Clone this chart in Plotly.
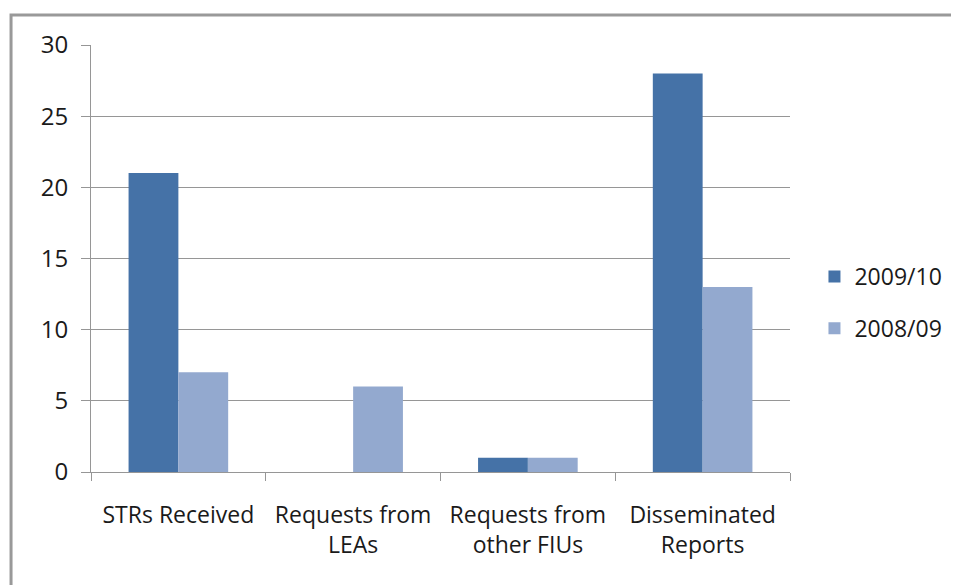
import plotly.graph_objects as go

categories = ["STRs Received", "Requests from<br>LEAs", "Requests from<br>other FIUs", "Disseminated<br>Reports"]
series_names = ["2009/10", "2008/09"]
values_2009_10 = [21, 0, 1, 28]
values_2008_09 = [7, 6, 1, 13]
y_ticks = [0, 5, 10, 15, 20, 25, 30]

FONT = "Open Sans"
TXT = "#1a1a1a"
GRID = "#969696"

fig = go.Figure()
fig.add_trace(go.Bar(x=categories, y=values_2009_10, name=series_names[0], legendgroup="a",
                     marker=dict(color="#4572A7", line=dict(width=0))))
fig.add_trace(go.Bar(x=categories, y=values_2008_09, name=series_names[1], legendgroup="b",
                     marker=dict(color="#93A9CF", line=dict(width=0))))

# page body adds an 8px margin; figure sized/margined to compensate
fig.update_layout(
    width=951, height=577,
    margin=dict(l=83, r=169, t=37, b=113),
    paper_bgcolor="white", plot_bgcolor="white",
    barmode="group", bargap=0.43, bargroupgap=0,
    font=dict(family=FONT, size=23, color=TXT),
    showlegend=True,
    legend=dict(x=1.035, y=0.397, xanchor="left", yanchor="middle",
                font=dict(family=FONT, size=23, color=TXT),
                itemwidth=30, tracegroupgap=19, traceorder="grouped",
                borderwidth=0),
    xaxis=dict(type="category", tickson="boundaries", ticks="outside", ticklen=8,
               tickcolor=GRID, showline=True, linecolor=GRID, linewidth=1,
               showgrid=False, tickfont=dict(family=FONT, size=23, color=TXT),
               ticklabelstandoff=22),
    yaxis=dict(range=[0, 30], tickvals=y_ticks, ticks="outside", ticklen=9,
               tickcolor=GRID, showline=True, linecolor=GRID, linewidth=1,
               showgrid=True, gridcolor=GRID, gridwidth=1, zeroline=False,
               tickfont=dict(family=FONT, size=24, color=TXT),
               ticklabelstandoff=8),
)
fig.add_shape(type="rect", xref="paper", yref="paper",
              x0=-0.1144, x1=1.4, y0=-0.5, y1=1.0703,
              line=dict(color="#999999", width=3), fillcolor="rgba(0,0,0,0)", layer="below")
fig.write_html("out.html")
